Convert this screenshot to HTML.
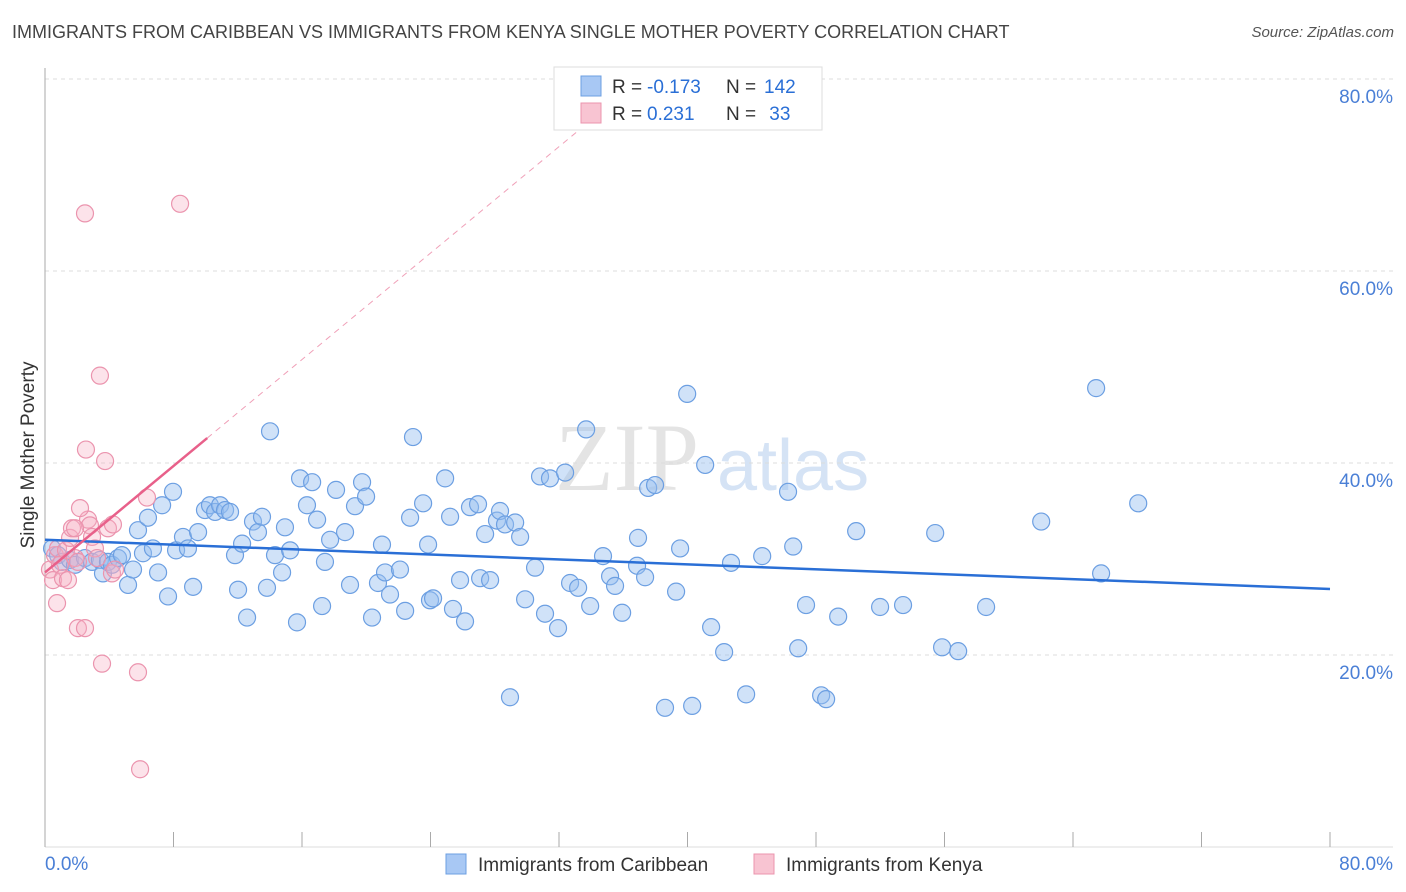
<!DOCTYPE html>
<html><head><meta charset="utf-8">
<style>
body{margin:0;background:#fff;font-family:"Liberation Sans",sans-serif;}
#wrap{position:relative;width:1406px;height:892px;overflow:hidden;}
.title{position:absolute;left:12px;top:22px;font-size:18px;color:#444;}
.source{position:absolute;right:12px;top:24px;font-size:15px;color:#555;font-style:italic;}
</style></head><body>
<div id="wrap">
<div class="title">IMMIGRANTS FROM CARIBBEAN VS IMMIGRANTS FROM KENYA SINGLE MOTHER POVERTY CORRELATION CHART</div>
<div class="source">Source: ZipAtlas.com</div>
<svg id="chart" width="1406" height="892" style="position:absolute;left:0;top:0"></svg>
</div>
<script>
const xTicks=[0,8,16,24,32,40,48,56,64,72,80];
const yTickVals=[20,40,60,80];
const yTickLabels=["20.0%","40.0%","60.0%","80.0%"];
const blueX=[0.44,0.81,1.06,1.56,1.87,2.49,2.93,3.42,3.61,3.92,4.17,4.55,4.79,5.17,5.48,5.79,6.10,6.41,6.72,7.04,7.29,7.66,7.97,8.16,8.59,8.90,9.22,9.53,9.96,10.27,10.59,10.90,11.21,11.52,11.83,12.02,12.27,12.58,12.95,13.26,13.51,13.82,14.01,14.32,14.76,14.94,15.26,15.69,15.88,16.31,16.63,16.94,17.25,17.43,17.75,18.12,18.68,18.99,19.30,19.74,19.99,20.36,20.73,20.98,21.17,21.48,22.10,22.42,22.73,22.91,23.54,23.85,23.97,24.16,24.91,25.22,25.40,25.84,26.15,26.46,26.96,27.09,27.40,27.71,28.14,28.33,28.64,28.95,29.27,29.58,29.89,30.51,30.82,31.13,31.44,31.94,32.38,32.69,33.19,33.69,33.94,34.74,35.18,35.49,35.93,36.92,36.86,37.36,37.55,37.98,38.60,39.29,39.54,39.98,40.29,41.10,41.47,42.28,42.71,43.65,44.65,46.26,46.58,46.89,47.38,48.32,48.63,49.38,50.50,51.99,53.42,55.42,55.85,56.85,58.59,62.02,65.44,65.75,68.06];
const blueY=[31.1,30.4,29.7,29.9,29.4,30.1,29.7,29.9,28.5,29.7,29.4,30.1,30.4,27.3,28.9,33.0,30.6,34.3,31.1,28.6,35.6,26.1,37.0,30.9,32.3,31.1,27.1,32.8,35.1,35.6,34.9,35.6,35.1,34.9,30.4,26.8,31.6,23.9,33.9,32.8,34.4,27.0,43.3,30.4,28.6,33.3,30.9,23.4,38.4,35.6,38.0,34.1,25.1,29.7,32.0,37.2,32.8,27.3,35.5,38.0,36.5,23.9,27.5,31.5,28.6,26.3,28.9,24.6,34.3,42.7,35.8,31.5,25.7,25.9,38.4,34.4,24.8,27.8,23.5,35.4,35.7,28.0,32.6,27.8,34.0,35.0,33.6,15.6,33.8,32.3,25.8,29.1,38.6,24.3,38.4,22.8,39.0,27.5,27.0,43.5,25.1,30.3,28.2,27.2,24.4,32.2,29.3,28.1,37.4,37.7,14.5,26.6,31.1,47.2,14.7,39.8,22.9,20.3,29.6,15.9,30.3,37.0,31.3,20.7,25.2,15.8,15.4,24.0,32.9,25.0,25.2,32.7,20.8,20.4,25.0,33.9,47.8,28.5,35.8];
const pinkX=[0.31,0.50,0.62,0.81,0.93,1.12,1.31,1.43,1.56,1.68,1.87,2.05,2.49,2.55,2.68,2.80,2.93,3.11,3.24,3.42,3.55,3.74,3.92,4.17,4.23,4.36,5.79,5.92,6.35,8.41,1.87,2.18,2.05,2.49,0.75];
const pinkY=[28.9,27.8,30.4,31.1,29.4,28.0,30.9,27.8,32.2,33.2,30.1,29.7,66.0,41.4,34.1,33.5,32.3,31.1,30.1,49.1,19.1,40.2,33.2,28.5,33.6,28.9,18.2,8.1,36.4,67.0,33.2,35.3,22.8,22.8,25.4];
const blueFit=[32.0,-0.064];   // intercept, slope
const pinkFit=[28.6,1.386];
const pinkSolidEnd=10.1;

const NS="http://www.w3.org/2000/svg";
const svg=document.getElementById('chart');
const X=v=>45+v*(1285/80);
const Y=v=>847-v*9.6;
function el(tag,attrs,parent){const e=document.createElementNS(NS,tag);for(const k in attrs)e.setAttribute(k,attrs[k]);(parent||svg).appendChild(e);return e;}

// watermark
let wm=el('text',{x:555,y:490,'font-size':96,fill:'#e4e4e4','font-family':'Liberation Serif'});


wm.textContent='ZIP';
let wm2=el('text',{x:717,y:490,'font-size':72,fill:'#d5e3f5','font-family':'Liberation Sans'});


wm2.textContent='atlas';

// gridlines and y labels
yTickVals.forEach((v,i)=>{
  const g=el('line',{x1:45,x2:1393,y1:Y(v),y2:Y(v),stroke:'#dcdcdc','stroke-dasharray':'4,4'});
  
  
  const t=el('text',{x:1393,y:Y(v)+24,'text-anchor':'end','font-size':19,fill:'#4a7fd6'});
  
  
  t.textContent=yTickLabels[i];
});
// axes
let ax=el('line',{x1:45,x2:45,y1:68,y2:847,stroke:'#aaa'});


let bx=el('line',{x1:45,x2:1393,y1:847,y2:847,stroke:'#ddd'});


xTicks.forEach(v=>{
  const t=el('line',{x1:X(v),x2:X(v),y1:832,y2:847,stroke:'#aaa'});
  
  
});
let xl0=el('text',{x:45,y:870,'font-size':19,fill:'#4a7fd6'});


xl0.textContent='0.0%';
let xl1=el('text',{x:1393,y:870,'text-anchor':'end','font-size':19,fill:'#4a7fd6'});


xl1.textContent='80.0%';
let yt=el('text',{x:34,y:455,'font-size':19,fill:'#333',transform:'rotate(-90 34 455)','text-anchor':'middle'});


yt.textContent='Single Mother Poverty';

// points
blueX.forEach((x,i)=>{
  const c=el('circle',{cx:X(x),cy:Y(blueY[i]),r:8.5,fill:'rgba(150,190,240,0.45)',stroke:'#6c9fe2','stroke-width':1.2});
  
  
});
pinkX.forEach((x,i)=>{
  const c=el('circle',{cx:X(x),cy:Y(pinkY[i]),r:8.5,fill:'rgba(245,175,195,0.35)',stroke:'#eb94ae','stroke-width':1.2});
  
  
});

// regression lines
let bl=el('line',{x1:X(0),y1:Y(blueFit[0]),x2:X(80),y2:Y(blueFit[0]+blueFit[1]*80),stroke:'#2a6fd6','stroke-width':2.5});


const pxTop=(80-pinkFit[0])/pinkFit[1];
let pd=el('line',{x1:X(pinkSolidEnd),y1:Y(pinkFit[0]+pinkFit[1]*pinkSolidEnd),x2:X(pxTop),y2:Y(80),stroke:'#f0a0b8','stroke-width':1,'stroke-dasharray':'6,5'});


let pl=el('line',{x1:X(0),y1:Y(pinkFit[0]),x2:X(pinkSolidEnd),y2:Y(pinkFit[0]+pinkFit[1]*pinkSolidEnd),stroke:'#e8608a','stroke-width':2.5});



// top legend
const lg=el('g',{});


el('rect',{x:554,y:67,width:268,height:63,fill:'#fff',stroke:'#ddd'},lg);
const rows=[['#a8c8f4','#6c9fe2','-0.173','142'],['#f8c4d2','#eb94ae',' 0.231',' 33']];
rows.forEach((r,i)=>{
  const y=86+i*27;
  const s=el('rect',{x:581,y:y-10,width:20,height:20,fill:r[0],stroke:r[1]},lg);
  
  
  const t=el('text',{x:612,y:y+7,'font-size':19,fill:'#333','xml:space':'preserve'},lg);
  
  
  t.innerHTML='R = <tspan fill="#2a6fd6" x="647">'+r[2]+'</tspan><tspan x="726">N =</tspan><tspan fill="#2a6fd6" x="764">'+r[3]+'</tspan>';
});
// bottom legend
[['#a8c8f4','#6c9fe2',446,478,'Immigrants from Caribbean'],['#f8c4d2','#eb94ae',754,786,'Immigrants from Kenya']].forEach(r=>{
  const s=el('rect',{x:r[2],y:854,width:20,height:20,fill:r[0],stroke:r[1]});
  
  
  const t=el('text',{x:r[3],y:871,'font-size':19,fill:'#333'});
  
  
  t.textContent=r[4];
});
</script>
</body></html>
